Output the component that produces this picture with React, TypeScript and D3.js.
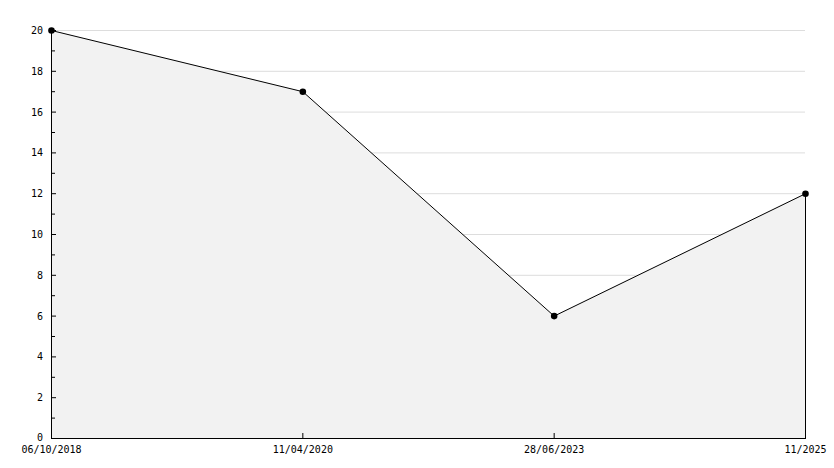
import React, { useEffect, useRef } from 'react';
import * as d3 from 'd3';

const dates: string[] = ['06/10/2018', '11/04/2020', '28/06/2023', '11/2025'];
const values: number[] = [20, 17, 6, 12];
const yTicks: number[] = [0, 2, 4, 6, 8, 10, 12, 14, 16, 18, 20];
const yMinorTicks: number[] = [1, 3, 5, 7, 9, 11, 13, 15, 17, 19];

export default function App() {
    const ref = useRef<SVGSVGElement>(null);

    useEffect(() => {
        const svg = d3.select(ref.current);
        svg.selectAll('*').remove();

        const left = 51, right = 805, top = 30, bottom = 438;
        const font = '"DejaVu Sans Mono", monospace';

        const x = d3.scalePoint<string>().domain(dates).range([left, right]);
        const y = d3.scaleLinear().domain([0, 20]).range([bottom, top]);

        svg.append('rect').attr('width', 834).attr('height', 468).attr('fill', '#fff');

        // horizontal grid
        svg.append('g')
            .selectAll('line')
            .data(yTicks.filter(t => t > 0))
            .enter()
            .append('line')
            .attr('x1', left)
            .attr('x2', right)
            .attr('y1', d => y(d) + 0.5)
            .attr('y2', d => y(d) + 0.5)
            .attr('stroke', '#dddddd')
            .attr('stroke-width', 1);

        const pts = dates.map((d, i) => ({ d, v: values[i] }));

        //area under line
        const area = d3.area<{ d: string; v: number }>()
            .x(p => x(p.d) as number)
            .y0(y(0))
            .y1(p => y(p.v));
        svg.append('path')
            .datum(pts)
            .attr('d', area)
            .attr('fill', '#f2f2f2');

        // right edge of area
        const lastX = x(dates[dates.length - 1]) as number;
        svg.append('line')
            .attr('x1', lastX + 0.5)
            .attr('x2', lastX + 0.5)
            .attr('y1', y(values[values.length - 1]))
            .attr('y2', y(0))
            .attr('stroke', '#000');

        const line = d3.line<{ d: string; v: number }>()
            .x(p => (x(p.d) as number) + 0.5)
            .y(p => y(p.v) + 0.5);
        svg.append('path')
            .datum(pts)
            .attr('d', line)
            .attr('fill', 'none')
            .attr('stroke', '#000')
            .attr('stroke-width', 1);

        // y axis
        const yAxis = svg.append('g');
        yAxis.append('line')
            .attr('x1', left + 0.5).attr('x2', left + 0.5)
            .attr('y1', top).attr('y2', bottom + 0.5)
            .attr('stroke', '#000');
        yAxis.selectAll('line.major')
            .data(yTicks)
            .enter()
            .append('line')
            .attr('class', 'major')
            .attr('x1', left).attr('x2', left + 5)
            .attr('y1', d => y(d) + 0.5).attr('y2', d => y(d) + 0.5)
            .attr('stroke', '#000');
        yAxis.selectAll('line.minor')
            .data(yMinorTicks)
            .enter()
            .append('line')
            .attr('class', 'minor')
            .attr('x1', left).attr('x2', left + 4)
            .attr('y1', d => y(d) + 0.5).attr('y2', d => y(d) + 0.5)
            .attr('stroke', '#000');
        yAxis.selectAll('text')
            .data(yTicks)
            .enter()
            .append('text')
            .attr('x', left - 8)
            .attr('y', d => (d === 0 ? y(d) : y(d) + 1))
            .attr('text-anchor', 'end')
            .attr('dominant-baseline', 'middle')
            .attr('font-family', font)
            .attr('font-size', '10px')
            .text(d => String(d));

        // x axis
        const xAxis = svg.append('g');
        xAxis.append('line')
            .attr('x1', left).attr('x2', right + 1)
            .attr('y1', bottom + 0.5).attr('y2', bottom + 0.5)
            .attr('stroke', '#000');
        xAxis.selectAll('line.tick')
            .data(dates)
            .enter()
            .append('line')
            .attr('class', 'tick')
            .attr('x1', d => (x(d) as number) + 0.5)
            .attr('x2', d => (x(d) as number) + 0.5)
            .attr('y1', bottom - 5)
            .attr('y2', bottom)
            .attr('stroke', '#000');
        xAxis.selectAll('text')
            .data(dates)
            .enter()
            .append('text')
            .attr('x', d => (x(d) as number) + 0.5)
            .attr('y', bottom + 12)
            .attr('text-anchor', 'middle')
            .attr('dominant-baseline', 'middle')
            .attr('font-family', font)
            .attr('font-size', '10px')
            .text(d => d);

        // markers
        svg.selectAll('circle.mark')
            .data(pts)
            .enter()
            .append('circle')
            .attr('class', 'mark')
            .attr('cx', p => (x(p.d) as number) + 0.5)
            .attr('cy', p => y(p.v) + 0.5)
            .attr('r', 3.3)
            .attr('fill', '#000');
    }, []);

    return (
        <svg ref={ref} width={834} height={468}
            style={{ position: 'absolute', left: 0, top: 0, display: 'block' }} />
    );
}
